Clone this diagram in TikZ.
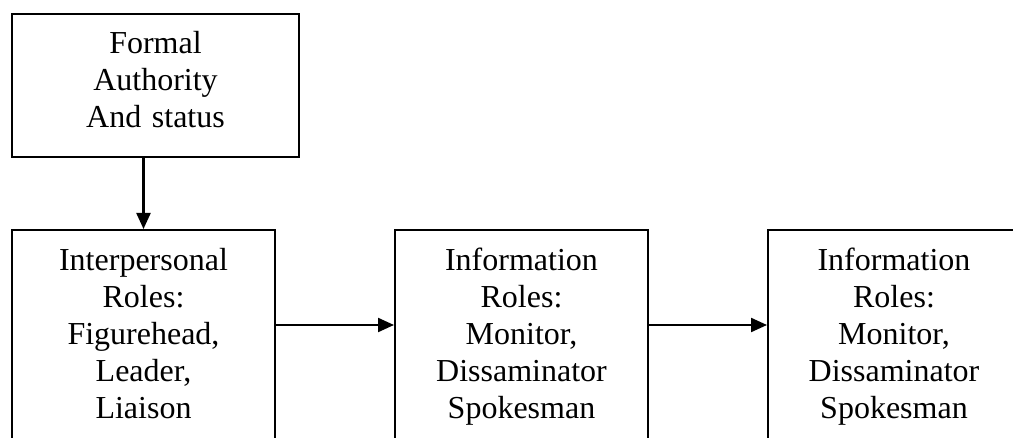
\documentclass[tikz,border=0pt]{standalone}
\usepackage{fontspec}
\setmainfont{Liberation Serif}
\usetikzlibrary{arrows.meta}
\tikzset{
  x=1pt, y=-1pt,
  box/.style={draw=black, line width=2pt, inner sep=0pt, anchor=north,
    align=center, font=\fontsize{32}{37}\selectfont},
  rolebox/.style={box, text height=41pt, text depth=250pt},
  arr/.style={line width=2.2pt, -{Triangle[length=16pt,width=14pt]}}
}
\begin{document}
\begin{tikzpicture}
\path[use as bounding box, clip] (0,0) rectangle (1013,438);
\fill[white] (0,0) rectangle (1013,438);

\node[box, text width=287pt, text height=40pt, text depth=103pt] (auth) at (155.5,13)
  {Formal\\Authority\\And status};

\node[rolebox, text width=263pt] (inter) at (143.5,229)
  {Interpersonal\\Roles:\\Figurehead,\\Leader,\\Liaison};
\node[rolebox, text width=253pt] (info1) at (521.5,229)
  {Information\\Roles:\\Monitor,\\Dissaminator\\Spokesman};
\node[rolebox, text width=252pt] (info2) at (894,229)
  {Information\\Roles:\\Monitor,\\Dissaminator\\Spokesman};

\draw[arr] (auth.south -| inter.north) -- (inter.north);
\draw[arr] ([yshift=-96pt]inter.north east) -- ([yshift=-96pt]info1.north west);
\draw[arr] ([yshift=-96pt]info1.north east) -- ([yshift=-96pt]info2.north west);
\end{tikzpicture}
\end{document}
